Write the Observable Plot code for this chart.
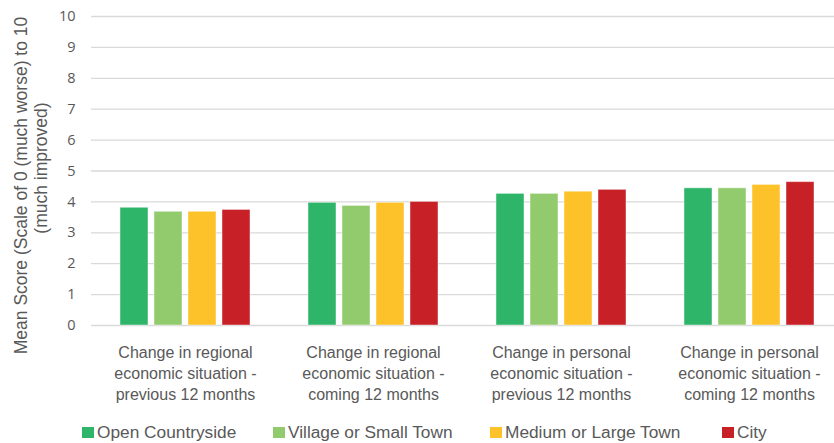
<!DOCTYPE html>
<html>
<head>
<meta charset="utf-8">
<script src="https://cdn.jsdelivr.net/npm/d3@7"></script>
<script src="https://cdn.jsdelivr.net/npm/@observablehq/plot@0.6"></script>
<style>
  html, body { margin: 0; padding: 0; background: #fff; }
  #wrap { width: 834px; height: 443px; position: relative; overflow: hidden; }
  #chart { width: 843px; }
  #legend { position: absolute; left: 0; top: 420px; width: 834px; height: 23px;
    font-family: "Liberation Sans", Arial, sans-serif; font-size: 17.3px; color: #595959; }
  .item { position: absolute; top: 2px; height: 20px; display: flex; align-items: center; white-space: nowrap; }
  .sw { width: 12px; height: 11px; margin-right: 3px; }
</style>
</head>
<body>
<div id="wrap">
  <div id="chart"></div>
  <div id="legend"></div>
</div>
<script>
const groups = [
  "Change in regional\neconomic situation -\nprevious 12 months",
  "Change in regional\neconomic situation -\ncoming 12 months",
  "Change in personal\neconomic situation -\nprevious 12 months",
  "Change in personal\neconomic situation -\ncoming 12 months"
];
const series = ["Open Countryside", "Village or Small Town", "Medium or Large Town", "City"];
const openCountryside = [3.81, 3.97, 4.26, 4.44];
const villageSmallTown = [3.68, 3.87, 4.26, 4.44];
const mediumLargeTown = [3.68, 3.97, 4.33, 4.55];
const city = [3.74, 4.00, 4.39, 4.64];
const colors = ["#2EB56A", "#92CB6E", "#FDC22A", "#C82027"];
const yTicks = [0, 1, 2, 3, 4, 5, 6, 7, 8, 9, 10];
const yLabelLines = ["Mean Score (Scale of 0 (much worse) to 10", "(much improved)"];

const valuesBySeries = [openCountryside, villageSmallTown, mediumLargeTown, city];
const data = [];
groups.forEach((g, i) => series.forEach((s, j) => data.push({group: g, series: s, value: valuesBySeries[j][i]})));

const sans = "'Liberation Sans', Arial, sans-serif";

const chart = Plot.plot({
  width: 843,
  height: 420,
  marginLeft: 90,
  marginRight: 0,
  marginTop: 16,
  marginBottom: 95,
  style: {fontFamily: "'Open Sans', sans-serif", fontSize: "14.5px", color: "#595959", background: "#fff", overflow: "visible"},
  fx: {domain: groups, padding: 0, axis: null, label: null},
  x: {domain: series, paddingInner: 0.184, paddingOuter: 0.834, axis: null, label: null},
  y: {domain: [0, 10], ticks: yTicks, tickSize: 0, tickPadding: 16, label: null},
  color: {domain: series, range: colors},
  marks: [
    Plot.ruleY(yTicks, {stroke: "#d9d9d9", strokeWidth: 1.3}),
    Plot.barY(data, {fx: "group", x: "series", y: "value", fill: "series", stroke: "#ffffff", strokeOpacity: 0.45, strokeWidth: 1}),
    Plot.text(groups, {fx: d => d, text: d => d, frameAnchor: "bottom", lineAnchor: "top", dy: 17,
      lineHeight: 1.33, fontSize: 16, fontFamily: sans, fill: "#595959"}),
    Plot.text([yLabelLines[0]], {fx: () => groups[0], text: d => d, frameAnchor: "left", textAnchor: "middle", dx: -70, dy: 14.5,
      rotate: -90, fontSize: 17.5, fontFamily: sans, fill: "#595959"}),
    Plot.text([yLabelLines[1]], {fx: () => groups[0], text: d => d, frameAnchor: "left", textAnchor: "middle", dx: -50, dy: -3,
      rotate: -90, fontSize: 17.5, fontFamily: sans, fill: "#595959"})
  ]
});
document.getElementById("chart").appendChild(chart);

const legendLefts = [82, 273, 490, 722];
const legend = document.getElementById("legend");
series.forEach((s, i) => {
  const it = document.createElement("div");
  it.className = "item";
  it.style.left = legendLefts[i] + "px";
  const sw = document.createElement("span");
  sw.className = "sw";
  sw.style.background = colors[i];
  const t = document.createElement("span");
  t.textContent = s;
  it.appendChild(sw); it.appendChild(t);
  legend.appendChild(it);
});
</script>
</body>
</html>
